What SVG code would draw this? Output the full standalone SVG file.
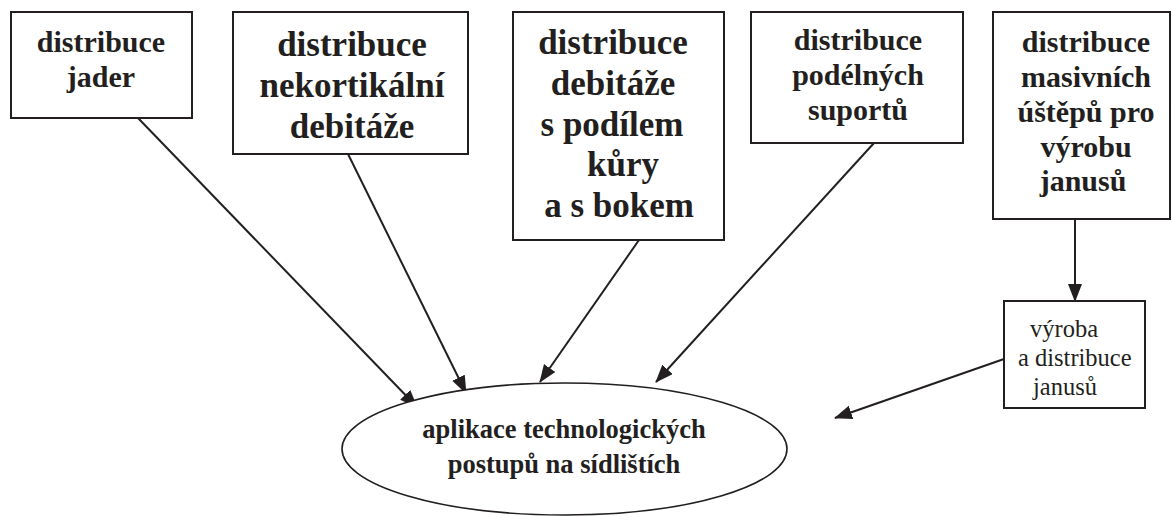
<svg xmlns="http://www.w3.org/2000/svg" width="1172" height="516" viewBox="0 0 1172 516">
<style>
.box{fill:#fff;stroke:#231f20;stroke-width:2}
text{font-family:'Liberation Serif','DejaVu Serif',serif;fill:#231f20}
.b30{font-weight:bold;font-size:30px;text-anchor:middle}
.b35{font-weight:bold;font-size:35px;text-anchor:middle}
.b27{font-weight:bold;font-size:26.5px;text-anchor:middle}
.r24{font-size:24.5px}
.conn{stroke:#231f20;stroke-width:2;fill:none}
</style>
<defs>
<marker id="ah" markerUnits="userSpaceOnUse" markerWidth="18" markerHeight="15" refX="17" refY="7" orient="auto">
<path d="M0,0 L18,7 L0,14 z" fill="#231f20"/>
</marker>
</defs>
<rect width="1172" height="516" fill="#fff"/>
<g id="connectors">
<line class="conn" x1="138" y1="118" x2="417" y2="407" marker-end="url(#ah)"/>
<line class="conn" x1="348" y1="154" x2="466" y2="393" marker-end="url(#ah)"/>
<line class="conn" x1="639" y1="240" x2="540" y2="382" marker-end="url(#ah)"/>
<line class="conn" x1="874" y1="143" x2="656" y2="382" marker-end="url(#ah)"/>
<line class="conn" x1="1075" y1="219" x2="1075" y2="301" marker-end="url(#ah)"/>
<line class="conn" x1="1004" y1="359" x2="835" y2="418" marker-end="url(#ah)"/>
</g>
<g id="n1">
<rect class="box" x="11" y="12" width="181" height="106"/>
<text class="b30" font-family="Liberation Serif" x="101" y="52">distribuce</text>
<text class="b30" font-family="Liberation Serif" x="101" y="87">jader</text>
</g>
<g id="n2">
<rect class="box" x="233" y="12" width="235" height="142"/>
<text class="b35" x="352" y="56">distribuce</text>
<text class="b35" x="352" y="97">nekortikální</text>
<text class="b35" x="352" y="138">debitáže</text>
</g>
<g id="n3">
<rect class="box" x="513" y="12" width="211" height="228"/>
<text class="b35" x="613" y="54">distribuce</text>
<text class="b35" x="613" y="95">debitáže</text>
<text class="b35" x="612" y="136">s podílem</text>
<text class="b35" x="623" y="176">kůry</text>
<text class="b35" x="619" y="217">a s bokem</text>
</g>
<g id="n4">
<rect class="box" x="751" y="12" width="212" height="131"/>
<text class="b30" x="858" y="50">distribuce</text>
<text class="b30" x="858" y="85">podélných</text>
<text class="b30" x="858" y="120">suportů</text>
</g>
<g id="n5">
<rect class="box" x="993" y="12" width="177" height="207"/>
<text class="b30" x="1086" y="52">distribuce</text>
<text class="b30" x="1086" y="87">masivních</text>
<text class="b30" x="1086" y="122">úštěpů pro</text>
<text class="b30" x="1086" y="157">výrobu</text>
<text class="b30" x="1083" y="191">janusů</text>
</g>
<g id="n6">
<rect class="box" x="1004" y="301" width="141" height="107"/>
<text class="r24" x="1030" y="337">výroba</text>
<text class="r24" x="1018" y="366">a distribuce</text>
<text class="r24" x="1033" y="395">janusů</text>
</g>
<g id="n7">
<ellipse cx="564.5" cy="449" rx="222.5" ry="66" fill="#fff" stroke="#231f20" stroke-width="1.6"/>
<text class="b27" x="564" y="438">aplikace technologických</text>
<text class="b27" x="564" y="473">postupů na sídlištích</text>
</g>
</svg>
